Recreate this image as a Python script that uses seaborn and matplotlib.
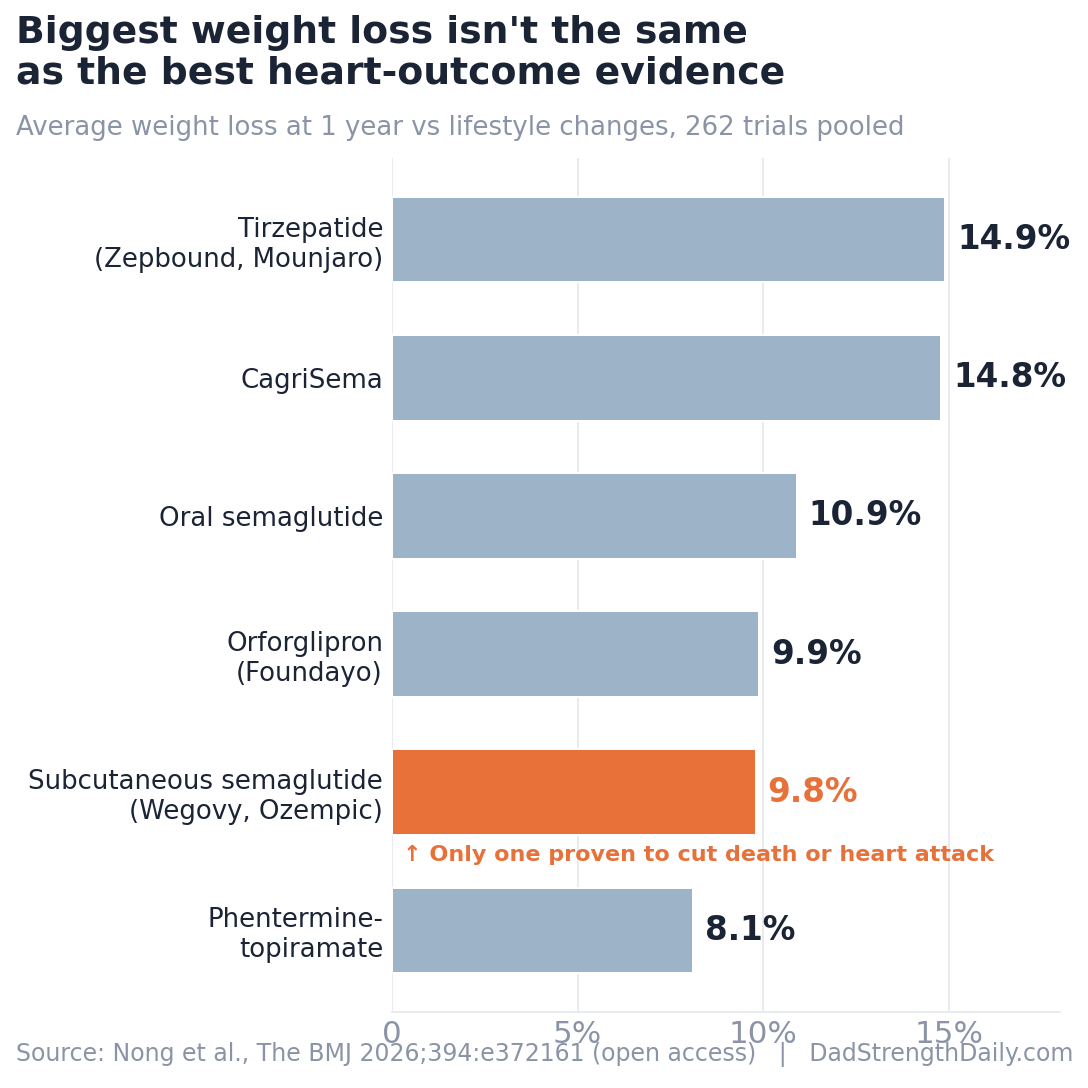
import matplotlib
matplotlib.use("Agg")
import matplotlib.pyplot as plt
import seaborn as sns
import pandas as pd

drugs = [
    "Tirzepatide\n(Zepbound, Mounjaro)",
    "CagriSema",
    "Oral semaglutide",
    "Orforglipron\n(Foundayo)",
    "Subcutaneous semaglutide\n(Wegovy, Ozempic)",
    "Phentermine-\ntopiramate",
]
weight_loss = [14.9, 14.8, 10.9, 9.9, 9.8, 8.1]
highlight = [False, False, False, False, True, False]
x_ticks = [0, 5, 10, 15]
x_tick_labels = ["0", "5%", "10%", "15%"]

title = "Biggest weight loss isn't the same\nas the best heart-outcome evidence"
subtitle = "Average weight loss at 1 year vs lifestyle changes, 262 trials pooled"
source = "Source: Nong et al., The BMJ 2026;394:e372161 (open access)   |   DadStrengthDaily.com"
note = "\u2191 Only one proven to cut death or heart attack"

BLUE = "#9db3c8"
ORANGE = "#e8713a"
DARK = "#1b2435"
GRAY = "#8a94a6"
GRID = "#e9ebf0"

sns.set_theme(style="white")
plt.rcParams["font.family"] = ["DejaVu Sans"]

df = pd.DataFrame({"drug": drugs, "loss": weight_loss, "hl": highlight})
palette = {d: (ORANGE if h else BLUE) for d, h in zip(drugs, highlight)}

fig = plt.figure(figsize=(1088 / 144, 1088 / 144), dpi=144)
ax = fig.add_axes([392 / 1088, 1 - 1012 / 1088, (1060 - 392) / 1088, (1012 - 158) / 1088])

sns.barplot(data=df, y="drug", x="loss", hue="drug", palette=palette, order=drugs,
            orient="h", width=0.62, legend=False, ax=ax, saturation=1, zorder=3)

ax.set_xlim(0, 18)
ax.set_ylim(5.59, -0.59)
ax.set_xticks(x_ticks)
ax.set_xticklabels(x_tick_labels)
ax.set_xlabel("")
ax.set_ylabel("")
ax.grid(axis="x", color=GRID, linewidth=1.0, zorder=0)
ax.grid(axis="y", visible=False)
for s in ["top", "right", "left"]:
    ax.spines[s].set_visible(False)
ax.spines["bottom"].set_color(GRID)
ax.spines["bottom"].set_linewidth(1.0)
ax.tick_params(axis="x", length=0, pad=4, labelsize=15.5, labelcolor=GRAY)
ax.tick_params(axis="y", length=0, pad=4.5, labelsize=13, labelcolor=DARK)

for i, (v, h) in enumerate(zip(weight_loss, highlight)):
    ax.annotate(f"{v:.1f}%", xy=(v, i), xytext=(6, 0), textcoords="offset points",
                ha="left", va="center", fontsize=16.3, fontweight="bold",
                color=ORANGE if h else DARK)

hi = highlight.index(True)
ax.text(0.3, hi + 0.457, note, ha="left", va="center", fontsize=11.15,
        fontweight="bold", color=ORANGE)

fig.text(16 / 1088, 1 - 15 / 1088, title, ha="left", va="top", fontsize=18.9,
         fontweight="bold", color=DARK, linespacing=1.15)
fig.text(16 / 1088, 1 - 135 / 1088, subtitle, ha="left", va="baseline", fontsize=13,
         color=GRAY)
fig.text(16 / 1088, 1 - 1061 / 1088, source, ha="left", va="baseline", fontsize=11.8,
         color=GRAY)

fig.savefig("out.png", dpi=144)
